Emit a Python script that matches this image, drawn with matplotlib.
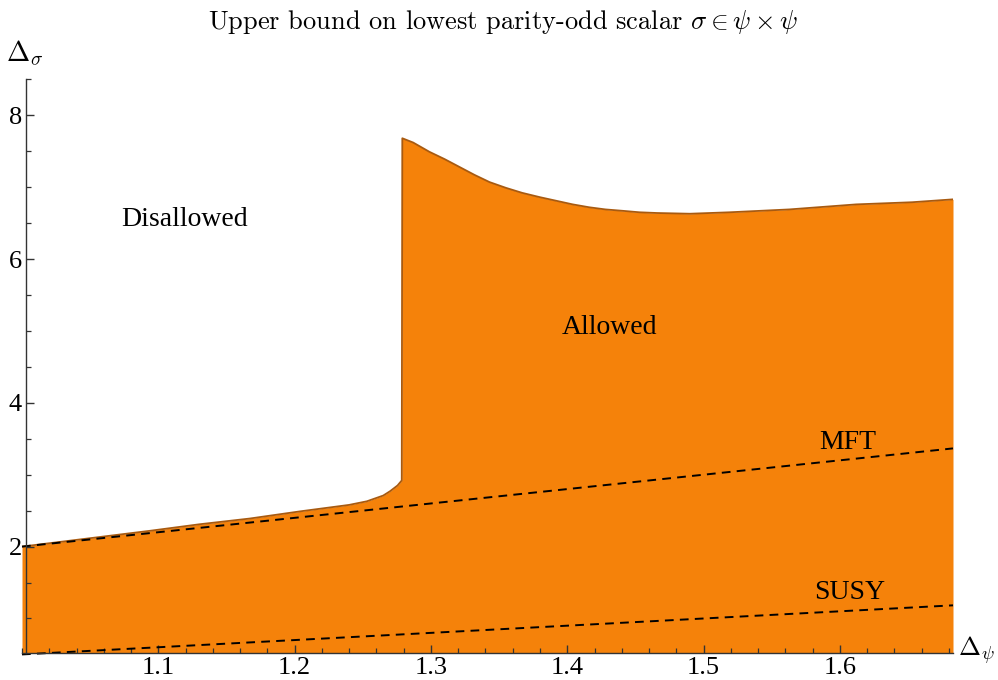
import matplotlib
matplotlib.use("Agg")
import matplotlib.pyplot as plt
from matplotlib.ticker import MultipleLocator

# ---- data ----
bound_x = [1.000, 1.047, 1.094, 1.130, 1.167, 1.204, 1.240, 1.253, 1.265, 1.270, 1.2755,
           1.2786,
           1.279, 1.287, 1.299, 1.310, 1.321, 1.332, 1.343, 1.355, 1.367, 1.380, 1.392,
           1.404, 1.416, 1.428, 1.441, 1.453, 1.466, 1.490, 1.519, 1.563, 1.612,
           1.653, 1.683]
bound_y = [2.00, 2.11, 2.22, 2.31, 2.39, 2.49, 2.58, 2.63, 2.71, 2.77, 2.85,
           2.92,
           7.68, 7.62, 7.49, 7.39, 7.28, 7.17, 7.07, 6.99, 6.92, 6.86, 6.81,
           6.76, 6.72, 6.69, 6.67, 6.65, 6.64, 6.63, 6.65, 6.69, 6.76,
           6.79, 6.83]
mft_x = [1.0, 1.683]
mft_y = [2.0, 3.366]
susy_x = [1.0, 1.683]
susy_y = [0.5, 1.183]
x_major = [1.1, 1.2, 1.3, 1.4, 1.5, 1.6]
x_labels = ["1.1", "1.2", "1.3", "1.4", "1.5", "1.6"]
y_major = [2, 4, 6, 8]
y_labels = ["2", "4", "6", "8"]

XMIN, XMAX = 1.0, 1.683
YMIN, YMAX = 0.52, 8.5

plt.rcParams['mathtext.fontset'] = 'cm'
serif = ['Liberation Serif', 'DejaVu Serif']

fig = plt.figure(figsize=(9.98, 6.8), dpi=100)
ax = fig.add_axes([22/998, 1-653/680, (953-22)/998, (653-79.3)/680])
ax.set_xlim(XMIN, XMAX)
ax.set_ylim(YMIN, YMAX)

orange = '#F5820A'
ax.fill_between(bound_x, 0, bound_y, color=orange, linewidth=0, zorder=1)
ax.plot(bound_x, bound_y, color='#A85A10', lw=1.3, zorder=2, solid_joinstyle='round')
ax.plot(mft_x, mft_y, color='black', lw=1.4, dashes=(4.5, 3.2), zorder=3, clip_on=False)
ax.plot(susy_x, susy_y, color='black', lw=1.4, dashes=(4.5, 3.2), zorder=3, clip_on=False)

for s in ['top', 'right']:
    ax.spines[s].set_visible(False)
ax.spines['left'].set_position(('data', 1.003))
for s in ['left', 'bottom']:
    ax.spines[s].set_color('#333333')
    ax.spines[s].set_linewidth(1.0)
    ax.spines[s].set_zorder(4)

ax.set_xticks(x_major)
ax.set_xticklabels(x_labels)
ax.set_yticks(y_major)
ax.set_yticklabels(y_labels)
ax.xaxis.set_minor_locator(MultipleLocator(0.02))
ax.yaxis.set_minor_locator(MultipleLocator(0.5))
ax.tick_params(which='major', direction='in', length=6, width=1.0, color='#333333',
               labelsize=19, pad=3)
ax.tick_params(which='minor', direction='in', length=3.5, width=0.9, color='#333333')
for lab in ax.get_xticklabels() + ax.get_yticklabels():
    lab.set_family(serif)

ax.text(1.1195, 6.55, "Disallowed", ha='center', va='center', fontsize=20, family=serif)
ax.text(1.431, 5.05, "Allowed", ha='center', va='center', fontsize=20, family=serif)
ax.text(1.606, 3.45, "MFT", ha='center', va='center', fontsize=20, family=serif)
ax.text(1.607, 1.36, "SUSY", ha='center', va='center', fontsize=20, family=serif)

fig.text(25/998, 1-53/680, r"$\Delta_\sigma$", ha='center', va='center', fontsize=20)
fig.text(976/998, 1-650/680, r"$\Delta_\psi$", ha='center', va='center', fontsize=19)

fig.text(503/998, 1-22/680, r"Upper bound on lowest parity-odd scalar $\sigma \in \psi \times \psi$",
         ha='center', va='center', fontsize=19, family=['cmr10', 'DejaVu Serif'])

fig.savefig("out.png", dpi=100)
